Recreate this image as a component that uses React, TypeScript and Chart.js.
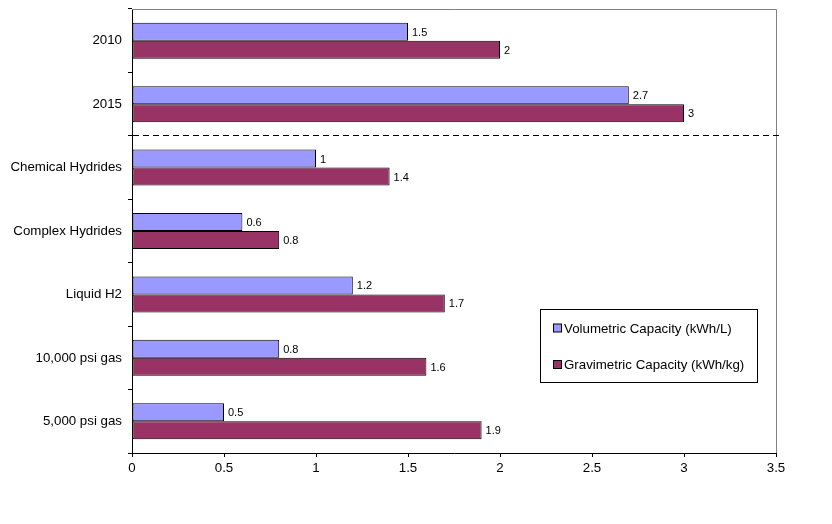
import React, { useEffect, useRef } from "react";
import { Chart, registerables } from "chart.js";

Chart.register(...registerables);

const categories = ["2010", "2015", "Chemical Hydrides", "Complex Hydrides", "Liquid H2", "10,000 psi gas", "5,000 psi gas"];
const volumetric = [1.5, 2.7, 1, 0.6, 1.2, 0.8, 0.5];
const gravimetric = [2, 3, 1.4, 0.8, 1.7, 1.6, 1.9];
const seriesNames = ["Volumetric Capacity (kWh/L)", "Gravimetric Capacity (kWh/kg)"];
const seriesColors = ["#9999FF", "#993366"];

const FONT = "'Liberation Sans', Arial, sans-serif";

const extrasPlugin = {
  id: "extras",
  afterDatasetsDraw(chart: any) {
    const ctx = chart.ctx;
    const { left, right, top, bottom } = chart.chartArea;
    ctx.save();
    // gray top/right frame
    ctx.strokeStyle = "#808080";
    ctx.lineWidth = 1;
    ctx.beginPath();
    ctx.moveTo(left, Math.round(top) + 0.5);
    ctx.lineTo(Math.round(right) + 0.5, Math.round(top) + 0.5);
    ctx.lineTo(Math.round(right) + 0.5, bottom);
    ctx.stroke();
    // dashed separator between 2015 and others
    const yScale = chart.scales.y;
    const yDash = Math.round((yScale.getPixelForValue(1) + yScale.getPixelForValue(2)) / 2) - 0.5;
    ctx.strokeStyle = "#000";
    ctx.setLineDash([6, 4]);
    ctx.beginPath();
    ctx.moveTo(left + 1, yDash);
    ctx.lineTo(right + 3, yDash);
    ctx.stroke();
    ctx.setLineDash([]);
    // value labels
    ctx.fillStyle = "#000";
    ctx.font = `11px ${FONT}`;
    ctx.textAlign = "left";
    ctx.textBaseline = "middle";
    chart.data.datasets.forEach((ds: any, di: number) => {
      const meta = chart.getDatasetMeta(di);
      meta.data.forEach((bar: any, i: number) => {
        ctx.fillText(String(ds.data[i]), bar.x + 4, bar.y + 1);
      });
    });
    // legend box
    const lx = 540, ly = 309, lw = 217, lh = 73;
    ctx.fillStyle = "#fff";
    ctx.fillRect(lx, ly, lw, lh);
    ctx.strokeStyle = "#000";
    ctx.strokeRect(lx + 0.5, ly + 0.5, lw, lh);
    ctx.font = `13.3px ${FONT}`;
    const rows = [328, 364.5];
    seriesNames.forEach((name, i) => {
      const cy = rows[i];
      ctx.fillStyle = seriesColors[i];
      ctx.fillRect(553.5, cy - 4, 8, 8);
      ctx.strokeStyle = "#000";
      ctx.strokeRect(553.5, cy - 4, 8, 8);
      ctx.fillStyle = "#000";
      ctx.fillText(name, 564, cy + 1);
    });
    ctx.restore();
  },
};

export default function App() {
  const ref = useRef<HTMLCanvasElement>(null);
  useEffect(() => {
    const chart = new Chart(ref.current!, {
      type: "bar",
      data: {
        labels: categories,
        datasets: [
          { label: seriesNames[0], data: volumetric, backgroundColor: seriesColors[0], borderColor: "#000", borderWidth: 1, borderSkipped: false },
          { label: seriesNames[1], data: gravimetric, backgroundColor: seriesColors[1], borderColor: "#000", borderWidth: 1, borderSkipped: false },
        ],
      },
      options: {
        indexAxis: "y",
        responsive: false,
        animation: false,
        maintainAspectRatio: false,
        datasets: { bar: { categoryPercentage: 0.5675, barPercentage: 1 } },
        layout: { autoPadding: false, padding: { top: 9, right: 56, left: 0, bottom: 0 } },
        plugins: { legend: { display: false }, tooltip: { enabled: false } },
        scales: {
          x: {
            type: "linear",
            min: 0,
            max: 3.5,
            ticks: { stepSize: 0.5, color: "#000", font: { family: FONT, size: 13.3 }, padding: 3, callback: (v: any) => String(v) },
            grid: { drawOnChartArea: false, tickLength: 4, color: "#000" },
            border: { color: "#000" },
            afterFit: (s: any) => { s.height = 71; s.paddingLeft = 0; s.paddingRight = 0; },
          },
          y: {
            ticks: { color: "#000", font: { family: FONT, size: 13.3 }, padding: 6 },
            grid: { drawOnChartArea: false, tickLength: 4, color: "#000", offset: true },
            border: { color: "#000" },
            afterFit: (s: any) => { s.width = 132; s.paddingTop = 0; s.paddingBottom = 0; },
          },
        },
      } as any,
      plugins: [extrasPlugin],
    });
    return () => chart.destroy();
  }, []);
  return (
    <div style={{ position: "fixed", left: 0, top: 0, width: 832, height: 524, background: "#fff" }}>
      <canvas ref={ref} width={832} height={524} style={{ width: 832, height: 524 }} />
    </div>
  );
}
